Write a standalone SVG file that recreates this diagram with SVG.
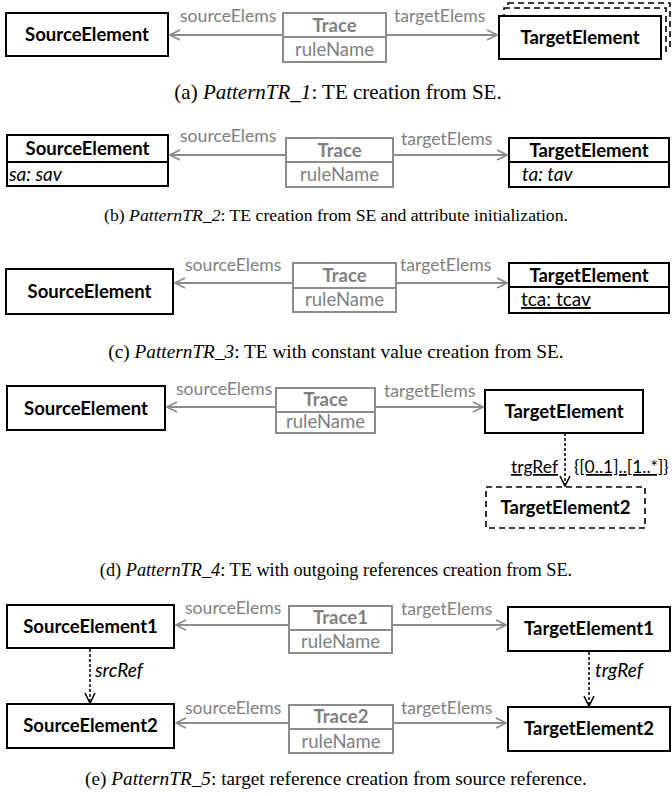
<svg xmlns="http://www.w3.org/2000/svg" width="672" height="796" viewBox="0 0 672 796">
  <style>
    .box { fill: #fff; stroke: #000; stroke-width: 2; }
    .dbox { fill: #fff; stroke: #000; stroke-width: 1.6; stroke-dasharray: 6 4; }
    .tbox { fill: #fff; stroke: #8c8c8c; stroke-width: 2; }
    .tline { stroke: #8c8c8c; stroke-width: 2; fill: none; }
    .ref { stroke: #000; stroke-width: 1.5; fill: none; stroke-dasharray: 3 2; }
    .nm { font-family: Lato, "Liberation Sans", sans-serif; font-weight: bold; font-size: 18.5px; fill: #000; text-anchor: middle; }
    .at { font-family: Lato, "Liberation Sans", sans-serif; font-size: 19px; fill: #000; }
    .rf { font-family: Lato, "Liberation Sans", sans-serif; font-size: 17.5px; fill: #000; }
    .tn { font-family: Lato, "Liberation Sans", sans-serif; font-weight: bold; font-size: 18.5px; fill: #7f7f7f; text-anchor: middle; }
    .ta { font-family: Lato, "Liberation Sans", sans-serif; font-size: 18.5px; fill: #7f7f7f; text-anchor: middle; }
    .lb { font-family: Lato, "Liberation Sans", sans-serif; font-size: 17.6px; fill: #7f7f7f; }
    .cap { font-family: "Liberation Serif", serif; fill: #000; text-anchor: middle; }
  </style>
  <defs>
    <marker id="vg" viewBox="0 0 12 12" refX="11" refY="6" markerWidth="12" markerHeight="12" markerUnits="userSpaceOnUse" orient="auto">
      <path d="M1,1 L11,6 L1,11" fill="none" stroke="#8c8c8c" stroke-width="1.6"/>
    </marker>
    <marker id="vb" viewBox="0 0 12 12" refX="11" refY="6" markerWidth="12" markerHeight="12" markerUnits="userSpaceOnUse" orient="auto">
      <path d="M1,1 L11,6 L1,11" fill="none" stroke="#000" stroke-width="1.6"/>
    </marker>
  </defs>

  <!-- (a) -->
  <g id="a-source"><rect class="box" x="6" y="13" width="162" height="43"/><text class="nm" x="87" y="41">SourceElement</text></g>
  <g id="a-trace"><rect class="tbox" x="283" y="13" width="103" height="49"/><line class="tline" x1="283" y1="37" x2="386" y2="37"/><text class="tn" x="334.5" y="32">Trace</text><text class="ta" x="334.5" y="56">ruleName</text></g>
  <g id="a-target">
    <rect class="dbox" x="508" y="3" width="162" height="44"/>
    <rect class="dbox" x="504" y="8" width="162" height="44"/>
    <rect class="box" x="499" y="16" width="162" height="43"/><text class="nm" x="580" y="44">TargetElement</text>
  </g>
  <g id="a-links">
    <line class="tline" x1="283" y1="35" x2="170" y2="35" marker-end="url(#vg)"/>
    <line class="tline" x1="386" y1="35" x2="497" y2="35" marker-end="url(#vg)"/>
    <text class="lb" x="180" y="22">sourceElems</text>
    <text class="lb" x="394" y="22">targetElems</text>
  </g>
  <text class="cap" x="338" y="99" style="font-size:21px">(a) <tspan font-style="italic">PatternTR_1</tspan>: TE creation from SE.</text>

  <!-- (b) -->
  <g id="b-source"><rect class="box" x="7" y="135" width="161" height="51"/><line stroke="#000" stroke-width="2" x1="7" y1="162" x2="168" y2="162"/><text class="nm" x="87.5" y="155">SourceElement</text><text class="at" x="9" y="181" font-style="italic">sa: sav</text></g>
  <g id="b-trace"><rect class="tbox" x="286" y="138" width="107" height="49"/><line class="tline" x1="286" y1="162" x2="393" y2="162"/><text class="tn" x="339.5" y="157">Trace</text><text class="ta" x="339.5" y="181">ruleName</text></g>
  <g id="b-target"><rect class="box" x="509" y="138" width="160" height="49"/><line stroke="#000" stroke-width="2" x1="509" y1="162" x2="669" y2="162"/><text class="nm" x="589" y="157">TargetElement</text><text class="at" x="522" y="181" font-style="italic">ta: tav</text></g>
  <g id="b-links">
    <line class="tline" x1="286" y1="155" x2="170" y2="155" marker-end="url(#vg)"/>
    <line class="tline" x1="393" y1="155" x2="507" y2="155" marker-end="url(#vg)"/>
    <text class="lb" x="180" y="142">sourceElems</text>
    <text class="lb" x="401" y="145">targetElems</text>
  </g>
  <text class="cap" x="336" y="221" style="font-size:17.7px">(b) <tspan font-style="italic">PatternTR_2</tspan>: TE creation from SE and attribute initialization.</text>

  <!-- (c) -->
  <g id="c-source"><rect class="box" x="6" y="269" width="167" height="45"/><text class="nm" x="89.5" y="298">SourceElement</text></g>
  <g id="c-trace"><rect class="tbox" x="293" y="263" width="103" height="49"/><line class="tline" x1="293" y1="288" x2="396" y2="288"/><text class="tn" x="344.5" y="282">Trace</text><text class="ta" x="344.5" y="306">ruleName</text></g>
  <g id="c-target"><rect class="box" x="509" y="263" width="160" height="50"/><line stroke="#000" stroke-width="2" x1="509" y1="287" x2="669" y2="287"/><text class="nm" x="589" y="282">TargetElement</text><text class="at" x="521" y="306" text-decoration="underline">tca: tcav</text></g>
  <g id="c-links">
    <line class="tline" x1="293" y1="283" x2="175" y2="283" marker-end="url(#vg)"/>
    <line class="tline" x1="396" y1="283" x2="507" y2="283" marker-end="url(#vg)"/>
    <text class="lb" x="185" y="271">sourceElems</text>
    <text class="lb" x="400" y="271">targetElems</text>
  </g>
  <text class="cap" x="336" y="358" style="font-size:19.3px">(c) <tspan font-style="italic">PatternTR_3</tspan>: TE with constant value creation from SE.</text>

  <!-- (d) -->
  <g id="d-source"><rect class="box" x="7" y="386" width="158" height="44"/><text class="nm" x="86" y="415">SourceElement</text></g>
  <g id="d-trace"><rect class="tbox" x="276" y="388" width="99" height="45"/><line class="tline" x1="276" y1="412" x2="375" y2="412"/><text class="tn" x="325.5" y="406">Trace</text><text class="ta" x="325.5" y="428">ruleName</text></g>
  <g id="d-target"><rect class="box" x="485" y="390" width="158" height="43"/><text class="nm" x="564" y="418">TargetElement</text></g>
  <g id="d-target2"><rect class="dbox" x="486" y="487" width="159" height="41"/><text class="nm" x="565.5" y="514">TargetElement2</text></g>
  <g id="d-links">
    <line class="tline" x1="276" y1="407" x2="167" y2="407" marker-end="url(#vg)"/>
    <line class="tline" x1="375" y1="407" x2="483" y2="407" marker-end="url(#vg)"/>
    <text class="lb" x="176" y="395">sourceElems</text>
    <text class="lb" x="384" y="397">targetElems</text>
    <line class="ref" x1="565" y1="433" x2="565" y2="486" marker-end="url(#vb)"/>
    <text class="rf" x="511" y="473" text-decoration="underline">trgRef</text>
    <text class="rf" x="574" y="473" text-decoration="underline">{[0..1]..[1..*]}</text>
  </g>
  <text class="cap" x="336" y="576" style="font-size:18.3px">(d) <tspan font-style="italic">PatternTR_4</tspan>: TE with outgoing references creation from SE.</text>

  <!-- (e) -->
  <g id="e-source1"><rect class="box" x="7" y="605" width="167" height="43"/><text class="nm" x="90.5" y="633">SourceElement1</text></g>
  <g id="e-trace1"><rect class="tbox" x="289" y="606" width="103" height="47"/><line class="tline" x1="289" y1="630" x2="392" y2="630"/><text class="tn" x="340.5" y="624">Trace1</text><text class="ta" x="340.5" y="648">ruleName</text></g>
  <g id="e-target1"><rect class="box" x="508" y="607" width="162" height="44"/><text class="nm" x="589" y="635">TargetElement1</text></g>
  <g id="e-source2"><rect class="box" x="7" y="704" width="167" height="44"/><text class="nm" x="90.5" y="732">SourceElement2</text></g>
  <g id="e-trace2"><rect class="tbox" x="289" y="705" width="104" height="48"/><line class="tline" x1="289" y1="729" x2="393" y2="729"/><text class="tn" x="341" y="723">Trace2</text><text class="ta" x="341" y="748">ruleName</text></g>
  <g id="e-target2"><rect class="box" x="508" y="707" width="162" height="44"/><text class="nm" x="589" y="735">TargetElement2</text></g>
  <g id="e-links">
    <line class="tline" x1="289" y1="625" x2="176" y2="625" marker-end="url(#vg)"/>
    <line class="tline" x1="392" y1="625" x2="506" y2="625" marker-end="url(#vg)"/>
    <text class="lb" x="185" y="614">sourceElems</text>
    <text class="lb" x="401" y="615">targetElems</text>
    <line class="tline" x1="289" y1="723" x2="176" y2="723" marker-end="url(#vg)"/>
    <line class="tline" x1="393" y1="723" x2="506" y2="723" marker-end="url(#vg)"/>
    <text class="lb" x="185" y="714">sourceElems</text>
    <text class="lb" x="401" y="714">targetElems</text>
    <line class="ref" x1="90" y1="649" x2="90" y2="703" marker-end="url(#vb)"/>
    <text class="at" x="95" y="677" font-style="italic">srcRef</text>
    <line class="ref" x1="589" y1="652" x2="589" y2="706" marker-end="url(#vb)"/>
    <text class="at" x="595" y="677" font-style="italic">trgRef</text>
  </g>
  <text class="cap" x="336" y="785" style="font-size:19.3px">(e) <tspan font-style="italic">PatternTR_5</tspan>: target reference creation from source reference.</text>
</svg>
